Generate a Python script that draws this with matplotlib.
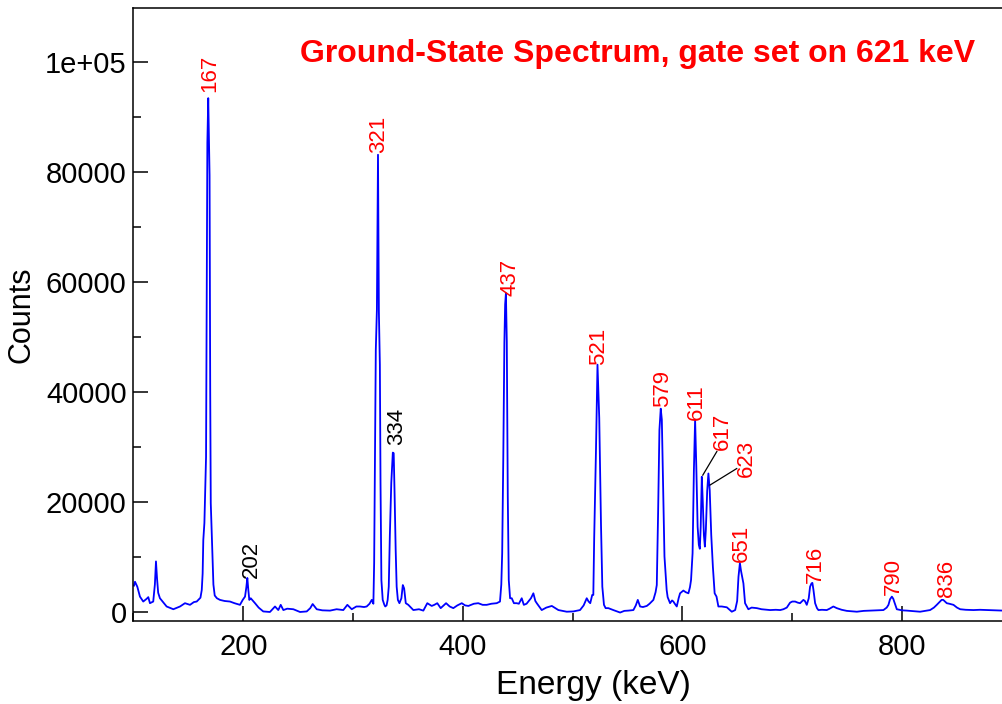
import matplotlib
matplotlib.use("Agg")
import matplotlib.pyplot as plt
from matplotlib.ticker import MultipleLocator, FuncFormatter

plt.rcParams['font.family'] = ['Liberation Sans', 'DejaVu Sans']

# --- spectrum (energy in keV, counts) ---
energy = [
    100.5, 101.4, 103.5, 105.9, 108.9, 112.0, 113.5, 115.0, 118.0, 119.5, 120.5, 121.5, 122.5, 124.1,
    127.0, 130.2, 136.3, 142.4, 146.9, 151.5, 155.0, 157.6, 160.0, 161.0, 162.2, 163.0, 163.6, 164.6,
    165.3, 166.1, 166.8, 167.3, 168.1, 168.8, 169.3, 169.9, 170.4, 171.2, 172.0, 172.8, 174.0, 176.0,
    178.8, 183.0, 187.9, 192.0, 197.0, 199.5, 201.6, 202.8, 203.7, 204.6, 205.5, 206.8, 210.7, 214.0,
    218.2, 224.3, 228.9, 231.9, 234.1, 236.5, 240.0, 245.6, 251.7, 257.8, 261.0, 263.2, 266.9, 272.0,
    279.0, 285.0, 291.1, 294.8, 298.8, 303.0, 306.3, 310.0, 312.4, 315.0, 317.0, 318.5, 319.2, 320.0,
    320.7, 321.7, 322.7, 323.5, 324.4, 325.0, 325.8, 327.0, 328.5, 329.3, 330.5, 331.5, 332.5, 333.5,
    334.8, 336.2, 337.0, 337.8, 338.8, 339.7, 340.8, 342.2, 344.0, 345.3, 346.5, 348.0, 350.3, 354.9,
    360.0, 364.0, 367.6, 371.6, 374.0, 376.7, 379.8, 384.7, 388.0, 391.3, 395.0, 399.0, 402.0, 405.0,
    410.0, 414.0, 418.0, 421.7, 426.0, 430.8, 433.8, 435.0, 435.8, 436.8, 437.8, 438.5, 439.2, 440.0,
    440.9, 441.8, 443.0, 444.5, 446.5, 449.0, 451.0, 453.6, 455.5, 458.0, 462.0, 464.2, 466.0, 467.3,
    471.8, 476.0, 481.0, 487.0, 494.6, 500.6, 506.7, 510.0, 512.8, 514.5, 516.0, 517.8, 518.8, 519.6,
    521.2, 522.6, 524.2, 525.8, 527.0, 528.5, 530.0, 532.5, 537.0, 543.2, 547.0, 550.7, 555.3, 557.5,
    559.3, 561.4, 564.0, 567.5, 570.0, 573.5, 575.5, 576.6, 577.8, 579.0, 580.2, 581.2, 582.2, 583.6,
    584.6, 585.6, 586.5, 588.7, 590.5, 591.7, 593.0, 594.8, 596.5, 597.8, 600.8, 603.0, 605.4, 606.8,
    607.8, 609.2, 610.4, 611.5, 612.6, 613.8, 614.9, 615.8, 616.6, 617.6, 618.5, 619.5, 620.4, 621.3,
    622.5, 623.6, 624.8, 626.2, 627.7, 629.3, 631.0, 632.7, 635.8, 640.4, 644.9, 648.0, 649.8, 651.0,
    652.3, 653.3, 655.5, 657.0, 660.0, 663.0, 667.7, 672.0, 679.8, 685.0, 689.0, 691.9, 695.0, 698.0,
    700.0, 702.6, 705.0, 707.1, 710.1, 711.5, 713.2, 715.0, 716.2, 717.5, 718.3, 719.3, 720.8, 722.5,
    723.8, 727.0, 731.4, 734.0, 737.4, 740.5, 745.0, 749.7, 758.8, 765.0, 770.9, 777.0, 783.0, 786.0,
    787.6, 789.0, 790.7, 792.0, 792.8, 795.2, 800.0, 804.3, 810.0, 816.4, 821.0, 825.5, 829.0, 831.6,
    834.0, 836.0, 837.5, 840.7, 843.0, 846.8, 850.0, 852.9, 858.0, 865.0, 871.0, 877.2, 883.0, 889.3,
    892.0,
]
counts = [
    4800, 5500, 4600, 2800, 1900, 2400, 2700, 1600, 1900, 5000, 9200, 6000, 3500, 2500,
    1800, 1000, 500, 1000, 1600, 1300, 1800, 1900, 2400, 2600, 4000, 7000, 13100, 16200,
    22200, 28200, 60000, 85400, 93500, 85000, 79500, 40000, 19800, 14900, 10000, 5000, 3000, 2500,
    2200, 2000, 1900, 1600, 1300, 2200, 2800, 4500, 6200, 4000, 2200, 2500, 1600, 800,
    100, 0, 1000, 350, 1300, 350, 600, 500, 0, 100, 700, 1450, 500, 300,
    250, 500, 350, 1300, 500, 1000, 1000, 900, 1000, 1500, 2200, 1500, 8900, 30000,
    47700, 55000, 83200, 54700, 45000, 23400, 5800, 2200, 1300, 1000, 1200, 2200, 4600, 14000,
    23500, 29000, 28900, 21600, 11300, 4600, 2200, 1600, 2500, 4900, 4300, 1600, 1300, 350,
    500, 250, 1600, 1100, 1300, 1600, 700, 1600, 1000, 700, 1200, 1600, 1200, 1100,
    1500, 1600, 1300, 1300, 1500, 1600, 1900, 5000, 10700, 28000, 49000, 56000, 58000, 49200,
    21000, 5800, 2500, 2500, 1600, 1600, 1500, 2500, 1300, 1500, 2500, 3400, 2000, 1600,
    350, 800, 1100, 350, 50, 100, 350, 1200, 2500, 1900, 1600, 3100, 3100, 13500,
    29200, 45000, 35300, 15800, 4600, 1300, 700, 700, 350, -100, 200, 250, 350, 1200,
    2200, 1000, 900, 1100, 1500, 2200, 3600, 4900, 18000, 33100, 37000, 35000, 24600, 10100,
    7000, 4000, 2700, 1600, 2100, 1900, 1500, 1000, 2500, 3400, 3900, 3600, 3400, 4500,
    5800, 10700, 25800, 35000, 26400, 15500, 12200, 11500, 15500, 24600, 20000, 14000, 11900, 15000,
    22000, 25200, 22200, 14000, 8200, 3400, 2800, 1000, 1000, 850, 50, 350, 2000, 6400,
    8900, 7500, 5200, 1600, 500, 800, 700, 500, 350, 400, 350, 500, 800, 1700,
    1900, 1900, 1700, 1600, 2200, 2000, 1300, 2500, 4600, 5200, 5300, 4000, 1600, 700,
    350, 400, 350, 600, 1000, 700, 400, 200, 50, 200, 250, 300, 350, 800,
    1300, 2300, 2800, 2400, 1900, 500, 300, 250, 150, 50, 200, 350, 800, 1300,
    1800, 2200, 2200, 1600, 1500, 1300, 800, 500, 400, 350, 400, 350, 300, 250,
    250,
]

# peak labels: text, x (keV), y of text bottom (counts), colour
peak_names = ["167", "202", "321", "334", "437", "521", "579", "611", "617", "623", "651", "716", "790", "836"]
peak_x = [169.4, 207.5, 323.6, 339.2, 442.5, 523.5, 582.0, 613.0, 636.5, 658.0, 653.4, 720.8, 792.2, 840.0]
peak_y = [94700, 6200, 83500, 30400, 57500, 45000, 37300, 35000, 29500, 24600, 9100, 5300, 3100, 2700]
peak_col = ["red", "black", "red", "black", "red", "red", "red", "red", "red", "red", "red", "red", "red", "red"]

# leader lines for the crowded 617 / 623 labels
lead_617 = ([618.5, 631.3], [24900, 29200])
lead_623 = ([625.1, 649.4], [23100, 26100])

fig = plt.figure(figsize=(10.02, 7.04), dpi=100)
ax = fig.add_axes([0.1332, 0.1179, 0.8668, 0.8707])

ax.plot(energy, counts, color="#0000ff", lw=1.3)
ax.plot(*lead_617, color="black", lw=0.9)
ax.plot(*lead_623, color="black", lw=0.9)

for name, x, y, c in zip(peak_names, peak_x, peak_y, peak_col):
    ax.text(x, y, name, rotation=90, ha="center", va="bottom", color=c, fontsize=16)

ax.text(0.969, 0.925, "Ground-State Spectrum, gate set on 621 keV", transform=ax.transAxes,
        ha="right", va="center", color="red", fontsize=23, fontweight="bold")

ax.set_xlim(100, 891)
ax.set_ylim(-1640, 109900)

ax.xaxis.set_major_locator(MultipleLocator(200))
ax.xaxis.set_minor_locator(MultipleLocator(100))
ax.yaxis.set_major_locator(MultipleLocator(20000))
ax.yaxis.set_minor_locator(MultipleLocator(10000))
ax.yaxis.set_major_formatter(FuncFormatter(lambda v, p: "1e+05" if v == 100000 else f"{v:.0f}"))

ax.tick_params(which="both", direction="in", top=False, right=False, width=1.1, labelsize=21)
ax.tick_params(which="major", length=11)
ax.tick_params(which="minor", length=5.5)
ax.tick_params(axis="x", pad=9)
ax.tick_params(axis="y", pad=5)

for s in ["left", "bottom", "top"]:
    ax.spines[s].set_linewidth(1.1)
ax.spines["right"].set_visible(False)

ax.set_xlabel("Energy (keV)", fontsize=24)
ax.xaxis.set_label_coords(0.530, -0.08)
ax.set_ylabel("Counts", fontsize=22, labelpad=6)

fig.savefig("out.png", dpi=100)
